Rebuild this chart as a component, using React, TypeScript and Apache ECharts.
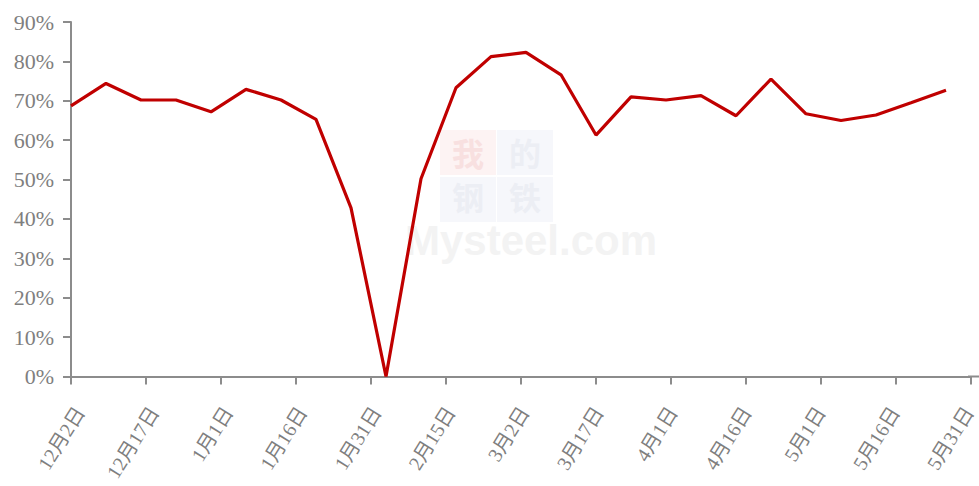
import React, { useEffect, useRef } from "react";
import * as echarts from "echarts";

const startDate = "2022-12-02";
const dates = [
  "2022-12-02", "2022-12-09", "2022-12-16", "2022-12-23", "2022-12-30",
  "2023-01-06", "2023-01-13", "2023-01-20", "2023-01-27", "2023-02-03",
  "2023-02-10", "2023-02-17", "2023-02-24", "2023-03-03", "2023-03-10",
  "2023-03-17", "2023-03-24", "2023-03-31", "2023-04-07", "2023-04-14",
  "2023-04-21", "2023-04-28", "2023-05-05", "2023-05-12", "2023-05-19",
  "2023-05-26",
];
const values = [
  68.7, 74.4, 70.2, 70.2, 67.2, 72.9, 70.2, 65.3, 42.8, 0,
  50.2, 73.3, 81.2, 82.3, 76.6, 61.3, 71.0, 70.2, 71.3, 66.2,
  75.5, 66.7, 65.0, 66.4, 69.5, 72.7,
];
const axisDays = 180; // 12月2日 → 5月31日
const tickStepDays = 15;

const DAY = 86400000;
const toUTC = (s: string) => {
  const [y, m, d] = s.split("-").map(Number);
  return Date.UTC(y, m - 1, d);
};
const dayOffset = (s: string) => Math.round((toUTC(s) - toUTC(startDate)) / DAY);
const dayLabel = (v: number) => {
  const dt = new Date(toUTC(startDate) + v * DAY);
  return `${dt.getUTCMonth() + 1}月${dt.getUTCDate()}日`;
};

export default function App() {
  const ref = useRef<HTMLDivElement>(null);
  useEffect(() => {
    if (!ref.current) return;
    const chart = echarts.init(ref.current, undefined, { renderer: "svg" });
    const axisColor = "#8c8c8c";
    const labelColor = "#7f7f7f";
    const wmFont = "bold 32px Noto Sans CJK SC";
    chart.setOption({
      animation: false,
      backgroundColor: "#ffffff",
      grid: [
        { left: 71, width: 900, top: 22, bottom: 109.5, containLabel: false },
        { left: 80, width: 900, top: 22, bottom: 109.5, containLabel: false },
      ],
      xAxis: [
        {
          type: "value",
          gridIndex: 0,
          min: 0,
          max: axisDays,
          interval: tickStepDays,
          splitLine: { show: false },
          axisLine: { show: true, lineStyle: { color: axisColor, width: 2 } },
          axisTick: { show: true, length: 8, lineStyle: { color: axisColor, width: 2 } },
          axisLabel: { show: false },
        },
        {
          type: "value",
          gridIndex: 1,
          min: 0,
          max: axisDays,
          interval: tickStepDays,
          splitLine: { show: false },
          axisLine: { show: false },
          axisTick: { show: false },
          axisLabel: {
            rotate: 58,
            margin: 32,
            color: labelColor,
            fontSize: 20,
            fontFamily: "Liberation Serif, Noto Sans CJK SC, serif",
            formatter: (v: number) => dayLabel(v),
            showMaxLabel: true,
            showMinLabel: true,
          },
        },
      ],
      yAxis: [
        {
          type: "value",
          gridIndex: 0,
          min: 0,
          max: 90,
          interval: 10,
          splitLine: { show: false },
          axisLine: { show: true, lineStyle: { color: axisColor, width: 2 } },
          axisTick: { show: true, length: 8, lineStyle: { color: axisColor, width: 2 } },
          axisLabel: {
            margin: 17,
            color: labelColor,
            fontSize: 22,
            fontFamily: "Liberation Serif, serif",
            formatter: (v: number) => `${v}%`,
          },
        },
        {
          type: "value",
          gridIndex: 1,
          show: false,
          min: 0,
          max: 90,
        },
      ],
      graphic: [
        { type: "line", z: 1, shape: { x1: 968, y1: 376.5, x2: 979, y2: 376.5 }, style: { stroke: axisColor, lineWidth: 2 } },
        { type: "rect", z: 0, shape: { x: 440, y: 130, width: 56, height: 45 }, style: { fill: "#fdf3f3" } },
        { type: "rect", z: 0, shape: { x: 497, y: 130, width: 56, height: 45 }, style: { fill: "#f6f7fb" } },
        { type: "rect", z: 0, shape: { x: 440, y: 177, width: 56, height: 45 }, style: { fill: "#f6f7fb" } },
        { type: "rect", z: 0, shape: { x: 497, y: 177, width: 56, height: 45 }, style: { fill: "#f6f7fb" } },
        { type: "text", z: 0, style: { x: 468, y: 152, text: "我", fill: "#f8e0e0", font: wmFont, textAlign: "center", textVerticalAlign: "middle" } },
        { type: "text", z: 0, style: { x: 525, y: 152, text: "的", fill: "#eceef4", font: wmFont, textAlign: "center", textVerticalAlign: "middle" } },
        { type: "text", z: 0, style: { x: 468, y: 196, text: "钢", fill: "#eceef4", font: wmFont, textAlign: "center", textVerticalAlign: "middle" } },
        { type: "text", z: 0, style: { x: 525, y: 196, text: "铁", fill: "#eceef4", font: wmFont, textAlign: "center", textVerticalAlign: "middle" } },
        { type: "text", z: 0, style: { x: 531, y: 240, text: "Mysteel.com", fill: "#f3f3f3", font: "bold 42px Liberation Sans", textAlign: "center", textVerticalAlign: "middle" } },
      ],
      series: [
        {
          type: "line",
          xAxisIndex: 0,
          yAxisIndex: 0,
          data: dates.map((d, i) => [dayOffset(d), values[i]]),
          showSymbol: false,
          symbol: "none",
          lineStyle: { color: "#c00000", width: 3.2 },
          z: 5,
        },
      ],
    });
    return () => chart.dispose();
  }, []);
  return (
    <div
      ref={ref}
      style={{ position: "absolute", left: 0, top: 0, width: 979, height: 486 }}
    />
  );
}
